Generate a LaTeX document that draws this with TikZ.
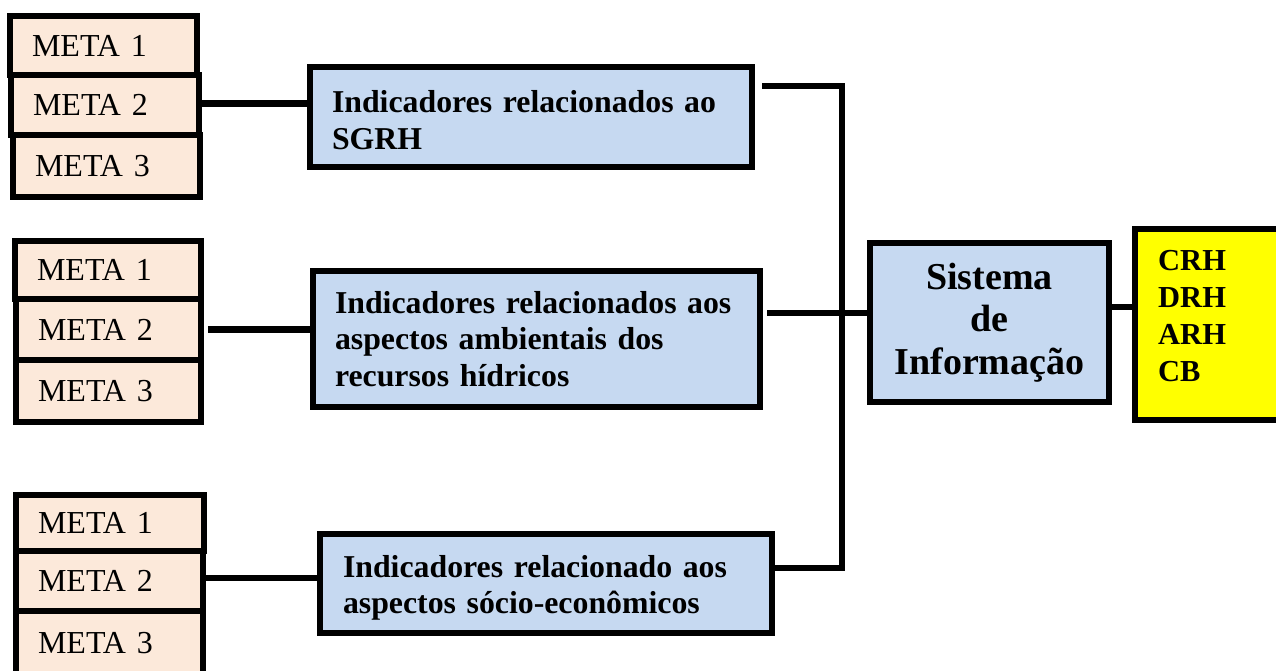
\documentclass[tikz,border=0pt]{standalone}
\usepackage{fontspec}
\setmainfont{Liberation Serif}
\definecolor{peach}{HTML}{FCE9DA}
\definecolor{lblue}{HTML}{C6D9F1}
\definecolor{yel}{HTML}{FFFF00}
\begin{document}
\begin{tikzpicture}[x=1pt,y=-1pt,
  box/.style={draw=black, line width=6.5pt, rectangle, inner ysep=0pt},
  meta/.style={box, fill=peach, align=left, inner xsep=22pt, font=\fontsize{32}{36}\selectfont},
  ind/.style={box, fill=lblue, align=left, inner xsep=22pt, font=\fontsize{31.8}{36.5}\selectfont\bfseries},
  conn/.style={draw=black, line width=6.5pt, line join=miter}
]
\useasboundingbox (0,0) rectangle (1276,671);
\clip (0,0) rectangle (1276,671);

% group 1
\node[meta, minimum width=187pt, minimum height=59pt, text width=143pt] (g1m1) at (103.5,45.5) {META 1};
\node[meta, minimum width=188pt, minimum height=60pt, text width=144pt] (g1m2) at (105,105) {META 2};
\node[meta, minimum width=187pt, minimum height=62pt, text width=143pt] (g1m3) at (106.5,166) {META 3};
% group 2
\node[meta, minimum width=186pt, minimum height=58pt, text width=142pt] (g2m1) at (108,270) {META 1};
\node[meta, minimum width=185pt, minimum height=61pt, text width=141pt] (g2m2) at (108.5,329.5) {META 2};
\node[meta, minimum width=185pt, minimum height=62pt, text width=141pt] (g2m3) at (108.5,391) {META 3};
% group 3
\node[meta, minimum width=188pt, minimum height=56pt, text width=144pt] (g3m1) at (110,523) {META 1};
\node[meta, minimum width=187pt, minimum height=60pt, text width=143pt] (g3m2) at (109.5,581) {META 2};
\node[meta, minimum width=187pt, minimum height=65pt, text width=143pt] (g3m3) at (109.5,643.5) {META 3};

% indicator boxes
\node[ind, minimum width=442pt, minimum height=100pt, text width=398pt] (b1) at (531,117)
  {\rule{0pt}{28pt}Indicadores relacionados ao\\SGRH};
\node[ind, minimum width=447pt, minimum height=136pt, text width=403pt] (b2) at (536.5,339)
  {Indicadores relacionados aos\\aspectos ambientais dos\\recursos hídricos};
\node[ind, minimum width=452pt, minimum height=99pt, inner xsep=23pt, text width=406pt] (b3) at (546,583.5)
  {\rule{0pt}{31pt}Indicadores relacionado aos\\aspectos sócio-econômicos};

% sistema
\node[box, fill=lblue, minimum width=239pt, minimum height=159pt, align=center,
  font=\fontsize{38}{42.5}\selectfont\bfseries] (sis) at (989.5,322.5)
  {Sistema\\de\\Informação};

% yellow box
\node[box, fill=yel, minimum width=150pt, minimum height=191pt] (yb) at (1210,324.5) {};
\node[anchor=north west, inner sep=0pt, align=left, font=\fontsize{30.5}{37}\selectfont\bfseries] (codes) at (1158,250)
  {CRH\\DRH\\ARH\\CB};

% connectors metas -> indicators
\draw[conn] ([yshift=1.5pt]g1m2.east) -- ([yshift=1.5pt]g1m2.east -| b1.west);
\draw[conn] ([xshift=4pt]g2m2.east) -- (g2m2.east -| b2.west);
\draw[conn] ([yshift=3pt]g3m2.east) -- ([yshift=3pt]g3m2.east -| b3.west);

% bus
\coordinate (bt) at (842,86);
\coordinate (bb) at (842,568);
\coordinate (bm) at (842,313);
\coordinate (so) at (1120,307);
\draw[conn] ([xshift=7pt]bt -| b1.east) -- (bt) -- (bb) -- (bb -| b3.east);
\draw[conn] ([xshift=4pt]bm -| b2.east) -- (bm -| sis.west);
\draw[conn] (so -| sis.east) -- (so -| yb.west);
\end{tikzpicture}
\end{document}
